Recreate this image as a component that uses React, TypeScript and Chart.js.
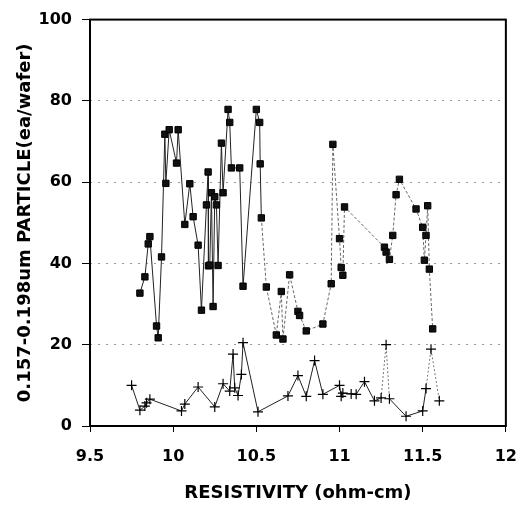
import React, { useEffect, useRef } from 'react';
import { Chart, registerables } from 'chart.js';

Chart.register(...registerables);

const xTickValues = [9.5, 10, 10.5, 11, 11.5, 12];
const yTickValues = [0, 20, 40, 60, 80, 100];

const upperX = [
  9.80, 9.83, 9.85, 9.86, 9.90, 9.91, 9.93, 9.95, 9.956, 9.976,
  10.02, 10.03, 10.07, 10.10, 10.12, 10.15, 10.17, 10.20, 10.21, 10.212,
  10.22, 10.23, 10.24, 10.25, 10.26, 10.27, 10.29, 10.30, 10.33, 10.34,
  10.35, 10.40, 10.42, 10.50, 10.52, 10.523, 10.53, 10.56, 10.62, 10.65,
  10.66, 10.70, 10.75, 10.76, 10.80, 10.90, 10.95, 10.96, 11.00, 11.01,
  11.02, 11.03, 11.27, 11.28, 11.30, 11.32, 11.34, 11.36, 11.46, 11.50,
  11.51, 11.52, 11.53, 11.54, 11.56,
];
const upperY = [
  32.7, 36.7, 44.8, 46.6, 24.6, 21.7, 41.6, 71.8, 59.7, 72.9,
  64.7, 72.9, 49.6, 59.6, 51.5, 44.5, 28.5, 54.4, 62.5, 39.4,
  39.6, 57.4, 29.4, 56.4, 54.4, 39.5, 69.6, 57.4, 77.9, 74.7,
  63.5, 63.5, 34.4, 77.9, 74.7, 64.5, 51.2, 34.2, 22.4, 33.1,
  21.4, 37.2, 28.2, 27.2, 23.4, 25.1, 35.0, 69.3, 46.1, 39.0,
  37.1, 53.9, 44.0, 42.8, 41.0, 46.9, 56.9, 60.7, 53.4, 48.9,
  40.8, 46.9, 54.2, 38.6, 23.9,
];

const lowerX = [
  9.75, 9.80, 9.83, 9.84, 9.86, 10.05, 10.07, 10.15, 10.25, 10.30,
  10.34, 10.36, 10.37, 10.39, 10.41, 10.42, 10.51, 10.69, 10.75, 10.80,
  10.85, 10.90, 11.00, 11.01, 11.02, 11.07, 11.10, 11.15, 11.21, 11.25,
  11.28, 11.30, 11.40, 11.50, 11.52, 11.55, 11.60,
];
const lowerY = [
  10.0, 3.9, 4.9, 5.7, 6.6, 3.7, 5.4, 9.6, 4.7, 10.4,
  8.6, 17.7, 9.4, 7.5, 12.7, 20.5, 3.5, 7.4, 12.4, 7.3,
  16.1, 7.8, 10.0, 7.3, 8.1, 7.9, 7.8, 10.9, 6.2, 6.9,
  20.0, 6.7, 2.4, 3.7, 9.2, 18.9, 6.2,
];

const FONT = '"DejaVu Sans", "Liberation Sans", Arial, sans-serif';

export default function App() {
  const ref = useRef<HTMLCanvasElement | null>(null);

  useEffect(() => {
    document.body.style.margin = '0';
    if (!ref.current) return;

    const framePlugin = {
      id: 'frame',
      afterDraw(chart: any) {
        const { ctx, chartArea } = chart;
        ctx.save();
        ctx.strokeStyle = '#000';
        ctx.lineWidth = 2;
        ctx.strokeRect(chartArea.left, chartArea.top, chartArea.right - chartArea.left, chartArea.bottom - chartArea.top);
        ctx.restore();
      },
    };

    const chart = new Chart(ref.current, {
      type: 'line',
      data: {
        datasets: [
          {
            label: 'upper',
            data: upperX.map((x, i) => ({ x, y: upperY[i] })),
            borderColor: '#222',
            borderWidth: 1,
            pointStyle: 'rect',
            pointRadius: 4.5,
            pointBackgroundColor: '#111',
            pointBorderColor: '#000',
            pointBorderWidth: 1,
            segment: {
              borderDash: (c: any) => (c.p0.parsed.x >= 10.53 ? [3, 2] : undefined),
              borderColor: (c: any) => (c.p0.parsed.x >= 10.53 ? '#666' : undefined),
            },
          },
          {
            label: 'lower',
            data: lowerX.map((x, i) => ({ x, y: lowerY[i] })),
            borderColor: '#222',
            borderWidth: 1,
            pointStyle: 'cross',
            pointRadius: 5,
            pointBorderColor: '#000',
            pointBorderWidth: 1.2,
            segment: {
              borderDash: (c: any) =>
                c.p0.parsed.x >= 11.25 && (c.p0.parsed.y > 15 || c.p1.parsed.y > 15) ? [2, 2] : undefined,
              borderColor: (c: any) =>
                c.p0.parsed.x >= 11.25 && (c.p0.parsed.y > 15 || c.p1.parsed.y > 15) ? '#777' : undefined,
            },
          },
        ],
      },
      options: {
        animation: false,
        responsive: true,
        maintainAspectRatio: false,
        layout: { padding: { top: 15, right: 22, left: 0, bottom: 0 } },
        plugins: { legend: { display: false }, tooltip: { enabled: false } },
        scales: {
          x: {
            type: 'linear',
            min: 9.5,
            max: 12,
            afterFit: (s: any) => { s.height = 83; },
            afterBuildTicks: (s: any) => { s.ticks = xTickValues.map((v) => ({ value: v })); },
            ticks: {
              color: '#000',
              padding: 15,
              font: { family: FONT, size: 16, weight: 'bold' },
              callback: (v: any) => String(v),
            },
            grid: { drawOnChartArea: false, tickLength: 6, tickColor: '#000', tickWidth: 1 },
            border: { display: false },
            title: {
              display: true,
              text: 'RESISTIVITY (ohm-cm)',
              color: '#000',
              font: { family: FONT, size: 18, weight: 'bold' },
              padding: { top: 0, bottom: 5 },
            },
          },
          y: {
            type: 'linear',
            min: 0,
            max: 100,
            afterFit: (s: any) => { s.width = 90; },
            afterBuildTicks: (s: any) => { s.ticks = yTickValues.map((v) => ({ value: v })); },
            ticks: {
              color: '#000',
              padding: 10,
              font: { family: FONT, size: 16, weight: 'bold' },
              callback: (v: any) => String(v),
            },
            grid: {
              color: (c: any) => (c.tick && (c.tick.value === 0 || c.tick.value === 100) ? 'rgba(0,0,0,0)' : '#999'),
              lineWidth: 1,
              tickLength: 8,
              tickColor: '#000',
              tickWidth: 1,
              tickBorderDash: [],
            },
            border: { display: false, dash: [2, 6] },
            title: {
              display: true,
              text: '0.157-0.198um PARTICLE(ea/wafer)',
              color: '#000',
              font: { family: FONT, size: 18, weight: 'bold' },
              padding: { top: 15, bottom: 0 },
            },
          },
        },
      },
      plugins: [framePlugin],
    } as any);

    return () => chart.destroy();
  }, []);

  return (
    <div style={{ position: 'relative', width: 532, height: 509 }}>
      <canvas ref={ref} />
    </div>
  );
}
